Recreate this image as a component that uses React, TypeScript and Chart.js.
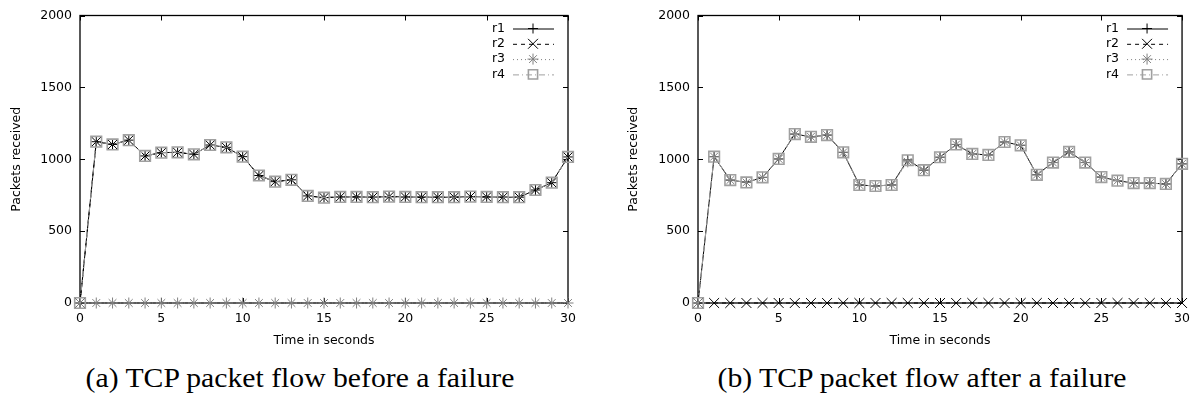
import React, { useEffect, useRef } from "react";
import { Chart, registerables } from "chart.js";
import { drawPoint } from "chart.js/helpers";

Chart.register(...registerables);

// ---------- data ----------
const time = [0, 1, 2, 3, 4, 5, 6, 7, 8, 9, 10, 11, 12, 13, 14, 15, 16, 17, 18, 19, 20, 21, 22, 23, 24, 25, 26, 27, 28, 29, 30];
const xTickValues = [0, 5, 10, 15, 20, 25, 30];
const yTickValues = [0, 500, 1000, 1500, 2000];
const seriesNames = ["r1", "r2", "r3", "r4"];

// (a) before a failure
const beforeR1 = [0, 1122, 1103, 1133, 1023, 1046, 1048, 1034, 1099, 1083, 1018, 887, 844, 857, 745, 733, 738, 738, 736, 740, 738, 736, 736, 736, 740, 738, 736, 736, 786, 837, 1016];
const beforeR2 = [0, 1122, 1103, 1133, 1023, 1046, 1048, 1034, 1099, 1083, 1018, 887, 844, 857, 745, 733, 738, 738, 736, 740, 738, 736, 736, 736, 740, 738, 736, 736, 786, 837, 1016];
const beforeR3 = [0, 0, 0, 0, 0, 0, 0, 0, 0, 0, 0, 0, 0, 0, 0, 0, 0, 0, 0, 0, 0, 0, 0, 0, 0, 0, 0, 0, 0, 0, 0];
const beforeR4 = [0, 1122, 1103, 1133, 1023, 1046, 1048, 1034, 1099, 1083, 1018, 887, 844, 857, 745, 733, 738, 738, 736, 740, 738, 736, 736, 736, 740, 738, 736, 736, 786, 837, 1016];

// (b) after a failure
const afterR1 = [0, 1018, 855, 839, 874, 1002, 1175, 1156, 1168, 1048, 821, 814, 821, 995, 924, 1014, 1103, 1037, 1030, 1120, 1097, 892, 977, 1051, 977, 876, 851, 834, 834, 828, 968];
const afterR2 = [0, 0, 0, 0, 0, 0, 0, 0, 0, 0, 0, 0, 0, 0, 0, 0, 0, 0, 0, 0, 0, 0, 0, 0, 0, 0, 0, 0, 0, 0, 0];
const afterR3 = [0, 1018, 855, 839, 874, 1002, 1175, 1156, 1168, 1048, 821, 814, 821, 982, 924, 1014, 1103, 1037, 1030, 1120, 1097, 892, 977, 1051, 977, 876, 851, 834, 834, 828, 968];
const afterR4 = [0, 1018, 855, 839, 874, 1002, 1175, 1156, 1168, 1048, 821, 814, 821, 993, 924, 1014, 1103, 1037, 1030, 1120, 1097, 892, 977, 1051, 977, 876, 851, 834, 834, 828, 968];

const captionA = "(a) TCP packet flow before a failure";
const captionB = "(b) TCP packet flow after a failure";
const xTitle = "Time in seconds";
const yTitle = "Packets received";

// ---------- styles ----------
const SANS = "'DejaVu Sans', sans-serif";
const seriesStyles = [
  { color: "#000000", dash: [] as number[], pointStyle: "cross", radius: 5, order: 4, width: 1 },
  { color: "#000000", dash: [4, 4], pointStyle: "crossRot", radius: 7, order: 3, width: 1 },
  { color: "#808080", dash: [1, 3], pointStyle: "star", radius: 5.5, order: 2, width: 1 },
  { color: "#a0a0a0", dash: [6, 3, 1, 3], pointStyle: "rect", radius: 7.5, order: 1, width: 1.6 },
];

const framePlugin = {
  id: "gnuFrame",
  beforeDatasetsDraw(chart: any) {
    const { ctx, chartArea: a, scales } = chart;
    ctx.save();
    ctx.strokeStyle = "#000";
    ctx.lineWidth = 1.3;
    ctx.strokeRect(a.left, a.top, a.right - a.left, a.bottom - a.top);
    ctx.lineWidth = 1;
    const tl = 5;
    ctx.beginPath();
    yTickValues.forEach((v) => {
      const y = Math.round(scales.y.getPixelForValue(v)) + 0.5;
      ctx.moveTo(a.left, y);
      ctx.lineTo(a.left + tl, y);
      ctx.moveTo(a.right, y);
      ctx.lineTo(a.right - tl, y);
    });
    xTickValues.forEach((v) => {
      const x = Math.round(scales.x.getPixelForValue(v)) + 0.5;
      ctx.moveTo(x, a.bottom);
      ctx.lineTo(x, a.bottom - tl);
      ctx.moveTo(x, a.top);
      ctx.lineTo(x, a.top + tl);
    });
    ctx.stroke();
    ctx.restore();
  },
};

const legendPlugin = {
  id: "gnuLegend",
  afterDatasetsDraw(chart: any) {
    const { ctx, chartArea: a } = chart;
    ctx.save();
    chart.data.datasets.forEach((ds: any, i: number) => {
      const y = a.top + 13 + i * 15.3;
      ctx.font = "12.5px " + SANS;
      ctx.fillStyle = "#000";
      ctx.textAlign = "right";
      ctx.textBaseline = "middle";
      ctx.fillText(ds.label, a.right - 63, y);
      ctx.strokeStyle = ds.borderColor;
      ctx.lineWidth = 1;
      ctx.setLineDash(ds.borderDash || []);
      ctx.beginPath();
      ctx.moveTo(a.right - 55, y + 0.5);
      ctx.lineTo(a.right - 14, y + 0.5);
      ctx.stroke();
      ctx.setLineDash([]);
      ctx.strokeStyle = ds.pointBorderColor;
      ctx.fillStyle = "rgba(0,0,0,0)";
      ctx.lineWidth = ds.pointBorderWidth;
      const r = ds.pointStyle === "rect" ? 6.5 : ds.pointRadius;
      drawPoint(ctx, { pointStyle: ds.pointStyle, radius: r, rotation: 0, borderWidth: ds.pointBorderWidth }, a.right - 35, y);
    });
    ctx.restore();
  },
};

type PanelProps = {
  series: number[][];
  width: number;
  height: number;
  padLeft: number;
  yWidth: number;
  padRight: number;
};

function Panel({ series, width, height, padLeft, yWidth, padRight }: PanelProps) {
  const ref = useRef<HTMLCanvasElement | null>(null);
  useEffect(() => {
    if (!ref.current) return;
    const datasets = series.map((vals, i) => {
      const s = seriesStyles[i];
      return {
        label: seriesNames[i],
        data: time.map((t, k) => ({ x: t, y: vals[k] })),
        borderColor: s.color,
        borderWidth: 1,
        borderDash: s.dash,
        pointStyle: s.pointStyle,
        pointRadius: s.radius,
        pointBorderColor: s.color,
        pointBackgroundColor: "rgba(0,0,0,0)",
        pointBorderWidth: s.width,
        order: s.order,
        fill: false,
        tension: 0,
        clip: false,
      };
    });
    const tickFont = { family: SANS, size: 12.5 };
    const titleFont = { family: SANS, size: 12.5 };
    const chart = new Chart(ref.current, {
      type: "line",
      data: { datasets },
      plugins: [framePlugin, legendPlugin],
      options: {
        animation: false,
        responsive: false,
        events: [],
        layout: { padding: { left: padLeft, top: 13, right: padRight, bottom: 0 } },
        plugins: { legend: { display: false }, tooltip: { enabled: false } },
        scales: {
          x: {
            type: "linear",
            min: 0,
            max: 30,
            afterBuildTicks: (s: any) => {
              s.ticks = xTickValues.map((v) => ({ value: v }));
            },
            afterFit: (s: any) => {
              s.height = 49;
            },
            grid: { display: false, drawTicks: false },
            border: { display: false },
            ticks: { padding: 8, font: tickFont, color: "#000", maxRotation: 0, autoSkip: false, callback: (v: any) => String(v) },
            title: { display: true, text: xTitle, font: titleFont, color: "#000", padding: 4 },
          },
          y: {
            type: "linear",
            min: 0,
            max: 2000,
            afterBuildTicks: (s: any) => {
              s.ticks = yTickValues.map((v) => ({ value: v }));
            },
            afterFit: (s: any) => {
              s.width = yWidth;
            },
            grid: { display: false, drawTicks: false },
            border: { display: false },
            ticks: { padding: 8, font: tickFont, color: "#000", autoSkip: false, callback: (v: any) => String(v) },
            title: { display: true, text: yTitle, font: titleFont, color: "#000", padding: 4 },
          },
        },
      } as any,
    });
    return () => chart.destroy();
  }, []);
  return <canvas ref={ref} width={width} height={height} style={{ display: "block", width, height }} />;
}

const captionStyle: React.CSSProperties = {
  position: "absolute",
  top: 363,
  textAlign: "center",
  fontFamily: "'Liberation Serif', serif",
  fontSize: 27,
  lineHeight: "30px",
  color: "#000",
  whiteSpace: "nowrap",
  transform: "scaleX(1.1)",
};

export default function App() {
  return (
    <div style={{ position: "absolute", left: 0, top: 0, width: 1198, height: 400, background: "#fff", overflow: "hidden" }}>
      <div style={{ position: "absolute", left: 0, top: 0 }}>
        <Panel series={[beforeR1, beforeR2, beforeR3, beforeR4]} width={600} height={352} padLeft={5.5} yWidth={74.5} padRight={32} />
      </div>
      <div style={{ position: "absolute", left: 600, top: 0 }}>
        <Panel series={[afterR1, afterR2, afterR3, afterR4]} width={598} height={352} padLeft={22.5} yWidth={75.5} padRight={11} />
      </div>
      <div style={{ ...captionStyle, left: 0, width: 600 }}>{captionA}</div>
      <div style={{ ...captionStyle, left: 622, width: 600 }}>{captionB}</div>
    </div>
  );
}
